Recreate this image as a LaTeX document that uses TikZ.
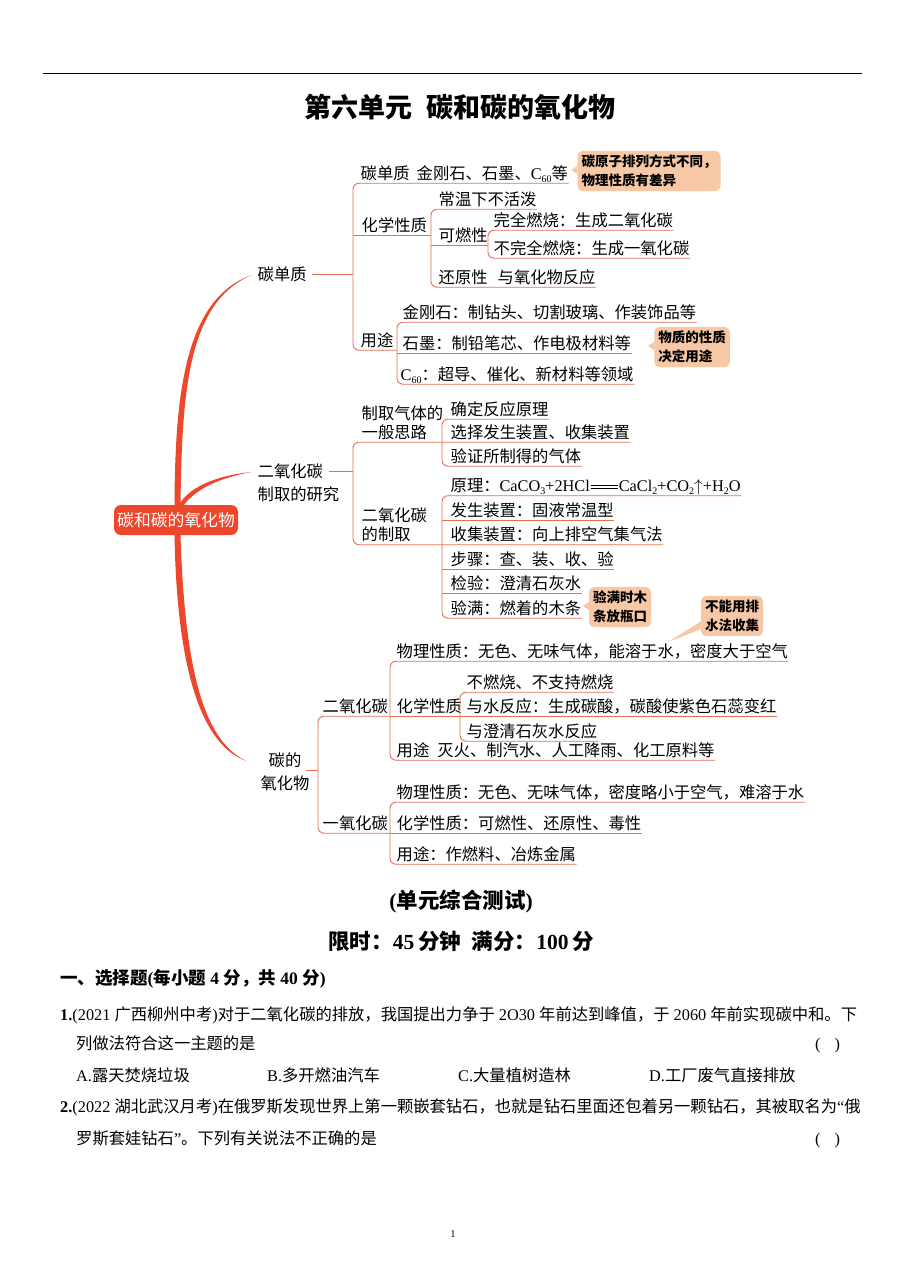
\documentclass[tikz,border=0pt]{standalone}
\usepackage{fontspec}
\setmainfont{Liberation Serif}
\newfontfamily\cjk{Noto Sans CJK SC}
\usepackage{tikz}

\definecolor{trunkc}{RGB}{238,72,44}
\definecolor{brc}{RGB}{229,112,82}
\definecolor{notec}{RGB}{247,200,166}

\newcommand\zh[1]{{\cjk #1}}
\newcommand\mapf{\cjk\fontsize{16.3}{19}\selectfont}
\newcommand\notef{\cjk\bfseries\fontsize{13.5}{19}\selectfont}
\newcommand\qf{\fontsize{16.3}{16.3}\selectfont}
\newcommand\sub[1]{\raisebox{-3pt}{\fontsize{10}{10}\selectfont #1}}
\newcommand\eqq{\kern1pt\rlap{\rule[2.6pt]{27pt}{0.7pt}}\rule[5.6pt]{27pt}{0.7pt}\kern1pt}

\tikzset{
  itm/.style={anchor=base west, inner sep=0.5pt, text depth=3.5pt, font=\mapf},
  br/.style={draw=brc, line width=0.9pt, rounded corners=6pt},
  note/.style={fill=notec, rounded corners=5pt, align=left, inner sep=4pt, font=\notef},
  root/.style={fill=trunkc, text=white, rounded corners=7pt, minimum width=124pt,
    minimum height=30pt, inner sep=0pt, font=\cjk\fontsize{16.8}{16.8}\selectfont},
  txt/.style={anchor=base west, inner sep=0pt, font=\qf},
}

\begin{document}
\begin{tikzpicture}[x=1pt, y=-1pt]
  \fill[white] (0,0) rectangle (905,1280);
  \useasboundingbox (0,0) rectangle (905,1280);

  % header
  \draw[line width=0.8pt] (43,73) -- (862,73);
  \node[anchor=base, inner sep=0pt, font=\cjk\bfseries\fontsize{27}{27}\selectfont] (title) at (460,117) {第六单元\hspace{0.5em}碳和碳的氧化物};

  % the root and the three main branches
  \node[root] (root) at (176,520) {碳和碳的氧化物};
  \node[itm] (cdz) at (257,280) {碳单质};
  \node[itm] (ey) at (257,477) {二氧化碳};
  \node[itm] (ey2) at (257,500) {制取的研究};
  \node[itm, anchor=base] (cd1) at (285,766) {碳的};
  \node[itm, anchor=base] (yh) at (285,789) {氧化物};

  \fill[trunkc] ([xshift=-1.5pt]root.north) .. controls (175,390) and (186,298) .. ([xshift=-5pt]cdz.west)
    .. controls (188,302) and (182,390) .. ([xshift=4.5pt]root.north) -- cycle;
  \fill[trunkc] ([xshift=3pt]root.north) .. controls (188,489) and (212,476) .. ([xshift=-5pt]ey.west)
    .. controls (213,479) and (194,492) .. ([xshift=8pt]root.north) -- cycle;
  \fill[trunkc] ([xshift=-1.5pt]root.south) .. controls (177,680) and (205,746) .. ([xshift=-22pt]cd1.west)
    .. controls (207,742) and (185,680) .. ([xshift=4.5pt]root.south) -- cycle;

  % carbon elements
  \coordinate (b1) at (353,0);
  \coordinate (b2) at (431,0);
  \coordinate (b3) at (488,0);
  \coordinate (b4) at (397,0);
  \node[itm] (dz) at (360,179) {碳单质};
  \node[itm] (jgs) at (416,179) {金刚石、石墨、{\rmfamily C\sub{60}}等};
  \node[itm] (hx1) at (361,231) {化学性质};
  \node[itm] (cw) at (438,205) {常温下不活泼};
  \node[itm] (kr) at (438,241) {可燃性};
  \node[itm] (wq) at (493,226) {完全燃烧：生成二氧化碳};
  \node[itm] (bwq) at (493,254) {不完全燃烧：生成一氧化碳};
  \node[itm] (hy) at (438,283) {还原性};
  \node[itm] (yy) at (497,283) {与氧化物反应};
  \node[itm] (yt1) at (360,346) {用途};
  \node[itm] (jg) at (402,318) {金刚石：制钻头、切割玻璃、作装饰品等};
  \node[itm] (sm) at (402,349) {石墨：制铅笔芯、作电极材料等};
  \node[itm] (c60) at (400,380) {{\rmfamily C\sub{60}}：超导、催化、新材料等领域};

  \draw[br] ([xshift=5pt]cdz.east) -- (cdz.east -| b1);
  \draw[br] (jgs.south east) -- (dz.south -| b1) -- (yt1.south -| b1) -- (yt1.south -| b4);
  \draw[br] (hx1.south -| b1) -- (hx1.south -| b2);
  \draw[br] (cw.south east) -- (cw.south -| b2) -- (yy.south -| b2) -- (yy.south east);
  \draw[br] (kr.south -| b2) -- (kr.south -| b3);
  \draw[br] (wq.south east) -- (wq.south -| b3) -- (bwq.south -| b3) -- (bwq.south east);
  \draw[br] (jg.south east) -- (jg.south -| b4) -- (c60.south -| b4) -- (c60.south east);
  \draw[br] (sm.south -| b4) -- (sm.south east);

  % making carbon dioxide
  \coordinate (b5) at (353,0);
  \coordinate (b6) at (442,0);
  \node[itm] (zq) at (361,419) {制取气体的};
  \node[itm] (yb) at (361,438) {一般思路};
  \node[itm] (qd) at (450,415) {确定反应原理};
  \node[itm] (xz) at (450,438) {选择发生装置、收集装置};
  \node[itm] (yz) at (450,462) {验证所制得的气体};
  \node[itm] (eq) at (361,521) {二氧化碳};
  \node[itm] (dzq) at (361,540.5) {的制取};
  \node[itm] (yl) at (450,491.5) {原理：{\rmfamily CaCO\sub{3}+2HCl\eqq CaCl\sub{2}+CO\sub{2}$\uparrow$+H\sub{2}O}};
  \node[itm] (fs) at (450,516) {发生装置：固液常温型};
  \node[itm] (sj) at (450,540.5) {收集装置：向上排空气集气法};
  \node[itm] (bz) at (450,565) {步骤：查、装、收、验};
  \node[itm] (jy) at (450,589.5) {检验：澄清石灰水};
  \node[itm] (ym) at (450,614) {验满：燃着的木条};

  \draw[br] ([xshift=5pt]ey.east) -- (ey.east -| b5);
  \draw[br] (xz.south east) -- (yb.south -| b5) -- (dzq.south -| b5) -- (sj.south east);
  \draw[br] (qd.south east) -- (qd.south -| b6) -- (yz.south -| b6) -- (yz.south east);
  \draw[br] (yl.south east) -- (yl.south -| b6) -- (ym.south -| b6) -- (ym.south east);
  \foreach \n in {fs,bz,jy}
    \draw[br] (\n.south -| b6) -- (\n.south east);

  % oxides of carbon
  \coordinate (b8) at (318,0);
  \coordinate (b9) at (390,0);
  \coordinate (b10) at (460,0);
  \coordinate (b11) at (390,0);
  \node[itm] (eo) at (322,712) {二氧化碳};
  \node[itm] (wl1) at (396,657) {物理性质：无色、无味气体，能溶于水，密度大于空气};
  \node[itm] (hx2) at (396,712) {化学性质};
  \node[itm] (bu) at (466,688) {不燃烧、不支持燃烧};
  \node[itm] (ys) at (466,712) {与水反应：生成碳酸，碳酸使紫色石蕊变红};
  \node[itm] (yc) at (466,737) {与澄清石灰水反应};
  \node[itm] (yt2) at (396,756) {用途\hspace{0.5em}灭火、制汽水、人工降雨、化工原料等};
  \node[itm] (yo) at (322,829) {一氧化碳};
  \node[itm] (wl2) at (396,798) {物理性质：无色、无味气体，密度略小于空气，难溶于水};
  \node[itm] (hx3) at (396,829) {化学性质：可燃性、还原性、毒性};
  \node[itm] (yt3) at (396,860) {用途：作燃料、冶炼金属};

  \draw[br] ([xshift=4pt]cd1.south east) -- (cd1.south -| b8);
  \draw[br] (eo.south -| b9) -- (eo.south -| b8) -- (yo.south -| b8) -- (yo.south -| b11);
  \draw[br] (wl1.south east) -- (wl1.south -| b9) -- (yt2.south -| b9) -- (yt2.south east);
  \draw[br] (hx2.south -| b9) -- (ys.south east);
  \draw[br] (bu.south east) -- (bu.south -| b10) -- (yc.south -| b10) -- (yc.south east);
  \draw[br] (wl2.south east) -- (wl2.south -| b11) -- (yt3.south -| b11) -- (yt3.south east);
  \draw[br] (hx3.south -| b11) -- (hx3.south east);

  % notes
  \node[note] (n1) at (649,171) {碳原子排列方式不同，\\物理性质有差异};
  \node[note] (n2) at (692,347) {物质的性质\\决定用途};
  \node[note] (n3) at (620,607) {验满时木\\条放瓶口};
  \node[note] (n4) at (732,616) {不能用排\\水法收集};
  \coordinate (t4) at (668,642);
  \foreach \n in {n1,n2,n3}
    \fill[notec] ([yshift=5pt]\n.west) -- ([xshift=-6pt,yshift=1pt]\n.west) -- ([yshift=-3pt]\n.west) -- cycle;
  \fill[notec] ([xshift=4pt,yshift=-3pt]n4.west) -- (t4) -- ([xshift=8pt,yshift=-10pt]n4.west) -- cycle;

  % test part
  \node[anchor=base, inner sep=0pt, font=\bfseries\fontsize{21.5}{21.5}\selectfont] (sub) at (461,908) {(\zh{单元综合测试})};
  \node[anchor=base, inner sep=0pt, font=\bfseries\fontsize{21.5}{21.5}\selectfont] (lim) at (461,949) {\zh{限时：}45\,\zh{分钟}\hspace{0.5em}\zh{满分：}100\,\zh{分}};
  \node[txt, font=\bfseries\fontsize{17.5}{17.5}\selectfont] (sec) at (60,984) {\zh{一、选择题}(\zh{每小题} 4 \zh{分，共} 40 \zh{分})};
  \node[txt] (q1a) at (60,1020) {\textbf{1.}(2021 \zh{广西柳州中考})\zh{对于二氧化碳的排放，我国提出力争于} 2O30 \zh{年前达到峰值，于} 2060 \zh{年前实现碳中和。下}};
  \node[txt] (q1b) at (76,1049) {\zh{列做法符合这一主题的是}};
  \node[txt] (p1) at (815,1049) {(\hspace{14pt})};
  \node[txt] (oa) at (76,1081) {A.\zh{露天焚烧垃圾}};
  \node[txt] (ob) at (267,1081) {B.\zh{多开燃油汽车}};
  \node[txt] (oc) at (458,1081) {C.\zh{大量植树造林}};
  \node[txt] (od) at (649,1081) {D.\zh{工厂废气直接排放}};
  \node[txt] (q2a) at (60,1112) {\textbf{2.}(2022 \zh{湖北武汉月考})\zh{在俄罗斯发现世界上第一颗嵌套钻石，也就是钻石里面还包着另一颗钻石，其被取名为}“\zh{俄}};
  \node[txt] (q2b) at (76,1144) {\zh{罗斯套娃钻石}”\zh{。下列有关说法不正确的是}};
  \node[txt] (p2) at (815,1144) {(\hspace{14pt})};
  \node[anchor=base, inner sep=0pt, font=\fontsize{10.5}{10.5}\selectfont] (pg) at (453,1237) {1};
\end{tikzpicture}
\end{document}
